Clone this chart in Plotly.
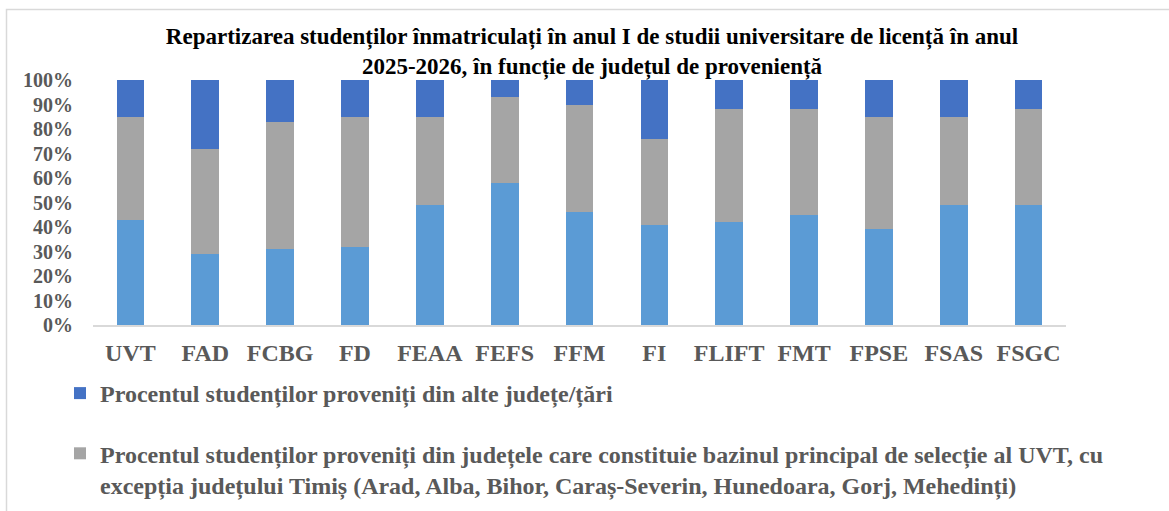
import plotly.graph_objects as go

categories = ["UVT", "FAD", "FCBG", "FD", "FEAA", "FEFS", "FFM", "FI", "FLIFT", "FMT", "FPSE", "FSAS", "FSGC"]
timis = [43, 29, 31, 32, 49, 58, 46, 41, 42, 45, 39, 49, 49]
bazin = [42, 43, 52, 53, 36, 35, 44, 35, 46, 43, 46, 36, 39]
alte = [15, 28, 17, 15, 15, 7, 10, 24, 12, 12, 15, 15, 12]
ytick_vals = [0, 10, 20, 30, 40, 50, 60, 70, 80, 90, 100]
ytick_text = [f"{v}%" for v in ytick_vals]

name_timis = "Procentul studenților proveniți din județul Timiș"
name_bazin = ("Procentul studenților proveniți din județele care constituie bazinul principal de selecție al UVT, cu<br>"
              "excepția județului Timiș (Arad, Alba, Bihor, Caraș-Severin, Hunedoara, Gorj, Mehedinți)")
name_alte = "Procentul studenților proveniți din alte județe/țări"

title_text = ("Repartizarea studenților înmatriculați în anul I de studii universitare de licență în anul<br>"
              "2025-2026, în funcție de județul de proveniență")

FONT = "Liberation Serif"
GRAY_TXT = "#595959"

fig = go.Figure()
fig.add_trace(go.Bar(x=categories, y=timis, name=name_timis, marker_color="#5B9BD5",
                     marker_line_width=0, showlegend=False, legendrank=3))
fig.add_trace(go.Bar(x=categories, y=bazin, name=name_bazin, marker_color="#A5A5A5",
                     marker_line_width=0, legendgroup="b", legendrank=2))
fig.add_trace(go.Bar(x=categories, y=alte, name=name_alte, marker_color="#4472C4",
                     marker_line_width=0, legendgroup="a", legendrank=1))

L, R, T, B = 93, 103, 80, 186
W, H = 1169, 511
pw, ph = W - L - R, H - T - B

def px_x(x):
    return (x - L) / pw

def px_y(y):
    return (H - B - y) / ph

fig.update_layout(
    width=W, height=H,
    margin=dict(l=L, r=R, t=T, b=B, pad=0, autoexpand=False),
    barmode="stack",
    bargap=0.63,
    paper_bgcolor="white",
    plot_bgcolor="white",
    font=dict(family=FONT, color=GRAY_TXT),
    title=dict(text=title_text, x=592 / W, xanchor="center", y=1 - 44 / H, yanchor="middle",
               font=dict(family=FONT, size=23, color="black", weight="bold")),
    xaxis=dict(showgrid=False, showline=True, linecolor="#D9D9D9", linewidth=1.5,
               ticks="", tickfont=dict(family=FONT, size=24, color=GRAY_TXT, weight="bold"),
               ticklabelstandoff=5),
    yaxis=dict(range=[0, 100], tickvals=ytick_vals, ticktext=ytick_text, showgrid=False,
               showline=False, zeroline=False, ticks="",
               tickfont=dict(family=FONT, size=20, color=GRAY_TXT, weight="bold"),
               ticklabelstandoff=19),
    legend=dict(orientation="v", xref="container", yref="container",
                x=60 / W, xanchor="left", y=1 - 371 / H, yanchor="top",
                traceorder="grouped", tracegroupgap=26, valign="top",
                font=dict(family=FONT, size=24, color=GRAY_TXT, weight="bold"),
                itemwidth=30, bgcolor="rgba(0,0,0,0)"),
    shapes=[dict(type="rect", xref="paper", yref="paper",
                 x0=px_x(6.5), x1=px_x(1200), y0=px_y(9.5), y1=px_y(540),
                 line=dict(color="#D9D9D9", width=1.5), fillcolor="rgba(0,0,0,0)", layer="below")],
)

fig.write_html("out.html", config={"displayModeBar": False},
               post_script="document.body.style.margin='0';")
